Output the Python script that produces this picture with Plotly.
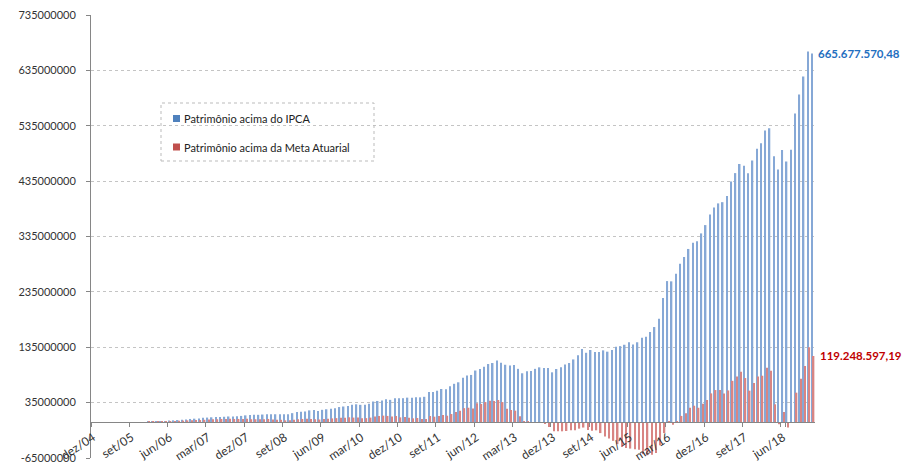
import plotly.graph_objects as go

# ---- data (values in millions of R$) ----
month_abbr = ["jan", "fev", "mar", "abr", "mai", "jun", "jul", "ago", "set", "out", "nov", "dez"]
categories = ["dez/04"] + [f"{m}/{y:02d}" for y in range(5, 20) for m in month_abbr][:169]

tick_labels = ["dez/04", "set/05", "jun/06", "mar/07", "dez/07", "set/08", "jun/09", "mar/10",
               "dez/10", "set/11", "jun/12", "mar/13", "dez/13", "set/14", "jun/15", "mar/16",
               "dez/16", "set/17", "jun/18"]

series_names = ["Patrimônio acima do IPCA", "Patrimônio acima da Meta Atuarial"]

acima_ipca = [0] * 13 + [
    0.5, 1, 1.2, 1.5, 2, 2.5, 3, 3.5, 4, 4.5, 5.5, 6, 6.5, 7.5, 8, 8.5, 9, 9, 9.5, 10,
    10, 10.5, 11, 12, 12.5, 13, 13, 13.5, 14, 14, 14, 14, 14, 14, 16, 18, 18.5, 19, 21, 21.5,
    20, 22, 23, 24, 25, 27, 28, 29, 31, 32, 31, 31, 33, 37, 38, 39, 41, 40,
    43, 43, 43, 44, 44, 44.5, 44.5, 45.5, 54, 54, 56.5, 59.6, 59, 64.4, 69, 71.7, 80, 84, 85, 93,
    95.7, 100, 104.7, 106.5, 111, 107, 103.4, 102, 103, 96, 88, 91.5, 92, 96, 98.7, 97.5, 97.5,
    89.7, 95.7, 98.7, 104, 106.5, 113, 120.4, 131.8, 125, 130, 126.4, 126.4, 129.4, 127, 130,
    136, 137, 139.5, 144, 140, 144, 152,
    154, 162.5, 171.5, 186.5, 223.8, 254.5, 254, 267.7, 285.7, 298, 312.5, 323.6, 326.5, 340.6,
    355.6, 374.9, 387.5, 394.8, 397, 408, 434.5, 449.5, 465.7, 462.7, 449, 472.4, 493.3, 503.6,
    526.5, 530.7, 480, 456, 491, 470.6, 491.6, 557, 591.3, 623.8, 669, 665.67757048]

acima_meta = [0] * 13 + [
    0.3, 0.5, 0.8, 1, 1.2, 1.5, 2, 2.2, 2.5, 3, 3, 3.5, 3.5, 4, 4.5, 5, 5, 5.5, 5.5, 6,
    5.5, 5.5, 5.5, 6, 5, 5, 5, 5, 5.5, 4.5, 4, 4, 3, 3, 4, 5, 5.5, 6, 5.5, 5, 4.5, 5.5, 6, 6.5,
    7, 7.5, 7.5, 8.5, 8, 8, 7, 7, 8, 10, 11, 11.5, 11, 10,
    10.8, 8.4, 9, 7.8, 6.6, 7.2, 5.4, 5.4, 10.8, 9.6, 10.8, 12.6, 11.4, 14.4, 18, 20.5, 25, 25.8,
    24.6, 33.7, 32.5, 36, 38.5, 37.9, 39.7, 36, 24, 21.7, 20.5, 10.2, 0.6, 1, 0, 0, 0, -3.6, -9,
    -16.8, -16.8, -16.8, -16.2, -15, -15, -12, -10, -14.4, -15.6, -15,
    -20, -26, -30, -34, -40, -45, -47, -48, -49, -50, -58, -60, -59, -56, -42, -20, 1, -5, 1.8,
    11, 15.6, 25.7, 29.4, 25.7, 33, 39.7, 51.7, 57.7, 57.7, 51.7, 57, 74.4, 82.4, 90.8, 79.4,
    56.6, 70.4, 82.4, 83.6, 98, 92.6, 32, -4, 18, -10, -1, 53, 78, 101, 135, 119.24859719]

y_ticks = [-65e6, 35e6, 135e6, 235e6, 335e6, 435e6, 535e6, 635e6, 735e6]

SCALE = 1e6
blue_vals = [v * SCALE for v in acima_ipca]
red_vals = [v * SCALE for v in acima_meta]

BLUE = "#86A8D6"
RED = "#D88583"
BLUE_KEY = "#4F81BD"
RED_KEY = "#C0504D"


def br_fmt(v):
    s = f"{v:,.2f}"
    return s.replace(",", "X").replace(".", ",").replace("X", ".")


FONT = "Lato, 'Open Sans', sans-serif"

# plot area in pixels: left 91, width 724, top 15, height 443
def px_x(p):
    return (p - 91) / 724


def px_y(p):
    return (458 - p) / 443


fig = go.Figure()
fig.add_trace(go.Bar(x=categories, y=blue_vals, name=series_names[0],
                     marker=dict(color=BLUE, line=dict(width=0)), showlegend=False))
fig.add_trace(go.Bar(x=categories, y=red_vals, name=series_names[1],
                     marker=dict(color=RED, line=dict(width=0)), showlegend=False))

legend_shapes = [dict(type="rect", xref="paper", yref="paper",
                      x0=px_x(161), x1=px_x(374), y0=px_y(161), y1=px_y(103),
                      line=dict(color="#BBBBBB", width=1, dash="3px,3px"),
                      fillcolor="rgba(0,0,0,0)")]
legend_annots = []
for name, col, cy in [(series_names[0], BLUE_KEY, 118.5), (series_names[1], RED_KEY, 147)]:
    legend_shapes.append(dict(type="rect", xref="paper", yref="paper",
                              x0=px_x(173), x1=px_x(180), y0=px_y(cy + 3.5), y1=px_y(cy - 3.5),
                              line=dict(width=0), fillcolor=col))
    legend_annots.append(dict(xref="paper", yref="paper", x=px_x(182), y=px_y(cy),
                              text=name, showarrow=False, xanchor="left", yanchor="middle",
                              font=dict(family=FONT, size=11, color="#222222")))

fig.update_layout(
    width=919, height=464,
    margin=dict(l=91, r=104, t=15, b=6),
    paper_bgcolor="white", plot_bgcolor="white",
    barmode="group", bargap=0.3, bargroupgap=0.0,
    font=dict(family=FONT, size=11, color="#333333"),
    showlegend=False,
    xaxis=dict(type="category", range=[-0.5, len(categories) - 0.5],
               tickmode="array", tickvals=tick_labels, ticktext=tick_labels,
               tickson="boundaries", ticks="outside", ticklen=4, tickcolor="#868686",
               tickangle=-33, showgrid=False, showline=True, linecolor="#868686",
               linewidth=1, anchor="free", position=65 / 800, automargin=False,
               ticklabelstandoff=3,
               tickfont=dict(family=FONT, size=12, color="#333333")),
    yaxis=dict(range=[-65e6, 735e6], tickmode="array", tickvals=y_ticks,
               ticktext=[str(int(t)) for t in y_ticks],
               showgrid=True, gridcolor="#C4C4C4", griddash="3px,3px", gridwidth=1,
               zeroline=False, showline=True, linecolor="#868686", linewidth=1,
               ticks="outside", ticklen=4, tickcolor="#868686", automargin=False,
               ticklabelstandoff=8,
               tickfont=dict(family=FONT, size=11, color="#333333")),
    shapes=legend_shapes,
    annotations=legend_annots + [
        dict(x=categories[-1], y=blue_vals[-1], text="<b>" + br_fmt(blue_vals[-1]) + "</b>",
             showarrow=False, xanchor="left", yanchor="middle", xshift=3,
             font=dict(family=FONT, size=11.5, color="#1F6FBF")),
        dict(x=categories[-1], y=red_vals[-1], text="<b>" + br_fmt(red_vals[-1]) + "</b>",
             showarrow=False, xanchor="left", yanchor="middle", xshift=5,
             font=dict(family=FONT, size=11.5, color="#C00000")),
    ],
)

fig.write_html("out.html", config={"displayModeBar": False},
               post_script="document.body.style.margin='0';")
